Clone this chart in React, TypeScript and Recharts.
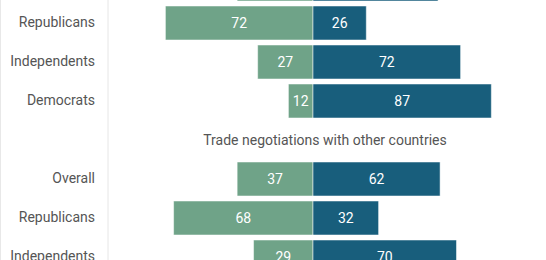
import React from "react";
import { BarChart, Bar, XAxis, YAxis, LabelList, ReferenceLine } from "recharts";

const categories = ["Overall", "Republicans", "Independents", "Democrats", "", "Overall", "Republicans", "Independents"];
const disapprove = [37, 72, 27, 12, 0, 37, 68, 29];
const approve = [61, 26, 72, 87, 0, 62, 32, 70];
const sectionTitle = "Trade negotiations with other countries";
const titleRow = 4;

const GREEN = "#6fa388";
const BLUE = "#185e7c";

const data = categories.map((name, i) => ({
  id: i,
  name,
  disapprove: -disapprove[i],
  approve: approve[i],
}));

const valueLabel = (props: any) => {
  const { x, y, width, height, value } = props;
  if (!value) return null;
  return (
    <text
      x={x + width / 2}
      y={y + height / 2}
      fill="#fff"
      fontSize={14}
      textAnchor="middle"
      dominantBaseline="central"
    >
      {Math.abs(value)}
    </text>
  );
};

const titleLabel = (props: any) => {
  const { viewBox } = props;
  if (!viewBox) return null;
  return (
    <text
      x={viewBox.x + viewBox.width / 2 + 12}
      y={viewBox.y}
      fill="#555"
      fontSize={14}
      textAnchor="middle"
      dominantBaseline="central"
    >
      {sectionTitle}
    </text>
  );
};

export default function App() {
  return (
    <div
      style={{
        position: "absolute",
        left: 0,
        top: 0,
        width: 546,
        height: 260,
        overflow: "hidden",
        background: "#fff",
        fontFamily: "Roboto, sans-serif",
      }}
    >
      <div style={{ position: "absolute", left: 0, top: 0, width: 1, height: 260, background: "#e8e8e8" }} />
      <div style={{ position: "absolute", left: 0, top: -36 }}>
        <BarChart
          width={546}
          height={312}
          data={data}
          layout="vertical"
          stackOffset="sign"
          margin={{ top: 0, right: 28, bottom: 0, left: 0 }}
          barSize={34}
        >
          <XAxis type="number" domain={[-100, 100]} hide />
          <YAxis
            type="category"
            dataKey="id"
            width={108}
            axisLine={{ stroke: "#e6e6e6" }}
            tickLine={false}
            tickMargin={7}
            tickFormatter={(i) => categories[i]}
            tick={{ fill: "#555", fontSize: 14 }}
            interval={0}
          />
          <Bar dataKey="disapprove" stackId="a" fill={GREEN} stroke="#fff" strokeOpacity={0.5} isAnimationActive={false}>
            <LabelList dataKey="disapprove" content={valueLabel} />
          </Bar>
          <Bar dataKey="approve" stackId="a" fill={BLUE} stroke="#fff" strokeOpacity={0.5} isAnimationActive={false}>
            <LabelList dataKey="approve" content={valueLabel} />
          </Bar>
          <ReferenceLine y={titleRow} stroke="none" label={titleLabel} />
        </BarChart>
      </div>
    </div>
  );
}
